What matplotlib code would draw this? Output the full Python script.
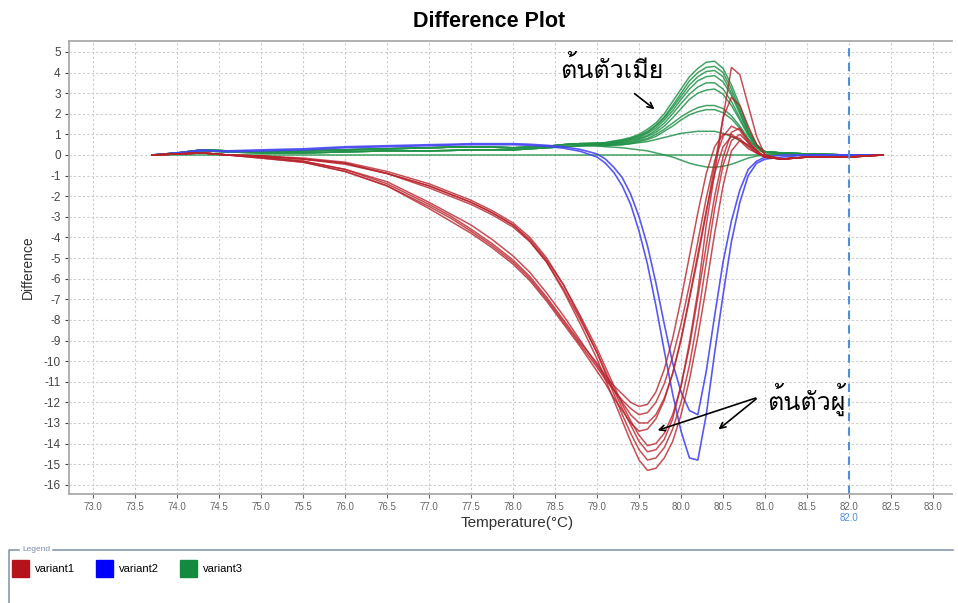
import matplotlib
matplotlib.use("Agg")
import matplotlib.pyplot as plt
from matplotlib import font_manager
from matplotlib.ft2font import FT2Font
from matplotlib.patches import Patch
from matplotlib.lines import Line2D

# find a font that can draw Thai
thai_font = None
for f in font_manager.fontManager.ttflist:
    try:
        if 0x0E15 in FT2Font(f.fname).get_charmap():
            thai_font = f.name
            break
    except Exception:
        pass
thai_family = [thai_font, "DejaVu Sans"] if thai_font else ["DejaVu Sans"]

plt.rcParams["font.family"] = ["Liberation Sans", "DejaVu Sans"]
plt.rcParams["axes.unicode_minus"] = False

temps = [73.7, 74.0, 74.3, 74.6, 75.0, 75.5, 76.0, 76.5, 77.0, 77.25, 77.5, 77.75, 78.0, 78.2,
         78.4, 78.6, 78.8, 79.0, 79.1, 79.2, 79.3, 79.4, 79.5, 79.6, 79.7, 79.8, 79.9, 80.0,
         80.1, 80.2, 80.3, 80.4, 80.5, 80.6, 80.7, 80.8, 80.9, 81.0, 81.2, 81.5, 82.0, 82.4]

variant1 = [
    [0, 0.05, 0.1, 0.0, -0.1, -0.3, -0.7, -1.4, -2.4, -2.95, -3.6, -4.3, -5.1, -5.9, -6.9, -8.0, -9.1,
     -10.1, -10.7, -11.2, -11.6, -12.0, -12.2, -12.1, -11.5, -10.4, -8.9, -7.0, -4.9, -2.8, -0.9, 0.4,
     1.0, 1.0, 0.7, 0.3, 0.1, -0.1, -0.2, -0.1, -0.1, 0.0],
    [0, 0.05, 0.1, 0.0, -0.15, -0.35, -0.8, -1.5, -2.5, -3.05, -3.7, -4.4, -5.2, -6.0, -7.0, -8.1, -9.2,
     -10.3, -10.9, -11.4, -11.9, -12.3, -12.6, -12.5, -12.0, -11.1, -9.8, -8.2, -6.3, -4.2, -2.1, -0.3,
     0.9, 1.4, 1.2, 0.6, 0.2, -0.1, -0.2, -0.1, -0.1, 0.0],
    [0, 0.05, 0.1, 0.0, -0.1, -0.3, -0.7, -1.3, -2.3, -2.85, -3.4, -4.1, -4.9, -5.7, -6.7, -7.8, -9.0,
     -10.2, -10.8, -11.4, -12.0, -12.6, -13.0, -13.0, -12.6, -11.8, -10.6, -9.0, -7.0, -5.0, -2.8, -0.5,
     1.8, 2.8, 2.4, 1.4, 0.5, 0.0, -0.2, -0.1, -0.1, 0.0],
    [0, 0.05, 0.1, 0.0, -0.15, -0.35, -0.8, -1.5, -2.6, -3.2, -3.8, -4.5, -5.3, -6.1, -7.1, -8.2, -9.3,
     -10.5, -11.1, -11.8, -12.4, -13.0, -13.4, -13.3, -12.8, -11.9, -10.6, -8.9, -6.9, -4.8, -2.7, -0.9,
     0.4, 0.9, 0.8, 0.4, 0.1, -0.1, -0.2, -0.1, -0.1, 0.0],
    [0, 0.05, 0.1, 0.0, -0.05, -0.2, -0.4, -0.9, -1.5, -1.9, -2.3, -2.8, -3.4, -4.1, -5.1, -6.3, -7.8,
     -9.4, -10.3, -11.2, -12.1, -12.9, -13.6, -14.1, -14.0, -13.5, -12.6, -11.2, -9.3, -6.9, -4.4, -2.0,
     -0.1, 1.1, 1.3, 0.7, 0.2, -0.1, -0.2, -0.1, -0.1, 0.0],
    [0, 0.05, 0.1, 0.0, -0.05, -0.2, -0.45, -0.9, -1.6, -2.0, -2.4, -2.9, -3.5, -4.2, -5.2, -6.5, -8.0,
     -9.6, -10.5, -11.4, -12.3, -13.1, -13.9, -14.4, -14.3, -13.8, -12.8, -11.2, -9.1, -6.6, -3.4, -0.9,
     1.8, 4.25, 3.9, 2.4, 0.9, 0.0, -0.2, -0.1, -0.1, 0.0],
    [0, 0.05, 0.1, 0.0, -0.05, -0.15, -0.35, -0.8, -1.4, -1.8, -2.2, -2.7, -3.3, -4.0, -5.0, -6.3, -7.9,
     -9.6, -10.6, -11.6, -12.6, -13.5, -14.3, -14.8, -14.7, -14.2, -13.3, -12.0, -10.2, -7.9, -5.2, -2.6,
     -0.5, 0.7, 1.0, 0.6, 0.2, -0.1, -0.2, -0.1, -0.1, 0.0],
    [0, 0.05, 0.1, 0.0, -0.05, -0.2, -0.4, -0.9, -1.5, -1.9, -2.3, -2.8, -3.4, -4.2, -5.2, -6.6, -8.2,
     -9.9, -10.9, -11.9, -12.9, -13.9, -14.8, -15.3, -15.2, -14.7, -13.9, -12.6, -10.9, -8.8, -6.4, -3.8,
     -1.5, 0.2, 0.7, 0.5, 0.1, -0.1, -0.2, -0.1, -0.1, 0.0],
]

variant2 = [
    [0, 0.1, 0.25, 0.15, 0.2, 0.25, 0.35, 0.4, 0.45, 0.48, 0.5, 0.5, 0.5, 0.47, 0.42, 0.33, 0.18,
     -0.1, -0.4, -0.85, -1.5, -2.4, -3.7, -5.3, -7.3, -9.5, -11.6, -13.4, -14.7, -14.8, -12.6, -9.6,
     -6.8, -4.2, -2.3, -1.0, -0.4, -0.2, -0.1, 0.0, 0.0, 0.0],
    [0, 0.1, 0.2, 0.2, 0.25, 0.3, 0.4, 0.45, 0.5, 0.52, 0.55, 0.55, 0.55, 0.52, 0.47, 0.4, 0.27,
     0.05, -0.2, -0.6, -1.1, -1.9, -3.0, -4.4, -6.2, -8.2, -10.1, -11.5, -12.4, -12.6, -10.5, -7.8,
     -5.2, -3.2, -1.7, -0.7, -0.3, -0.1, 0.0, 0.0, 0.0, 0.0],
]

green_early_a = [0, 0.1, 0.25, 0.2, 0.15, 0.2, 0.25, 0.3, 0.35, 0.38, 0.4, 0.38, 0.35, 0.38, 0.42, 0.5, 0.55]
green_early_b = [0, 0.05, 0.2, 0.15, 0.1, 0.1, 0.15, 0.2, 0.2, 0.22, 0.25, 0.25, 0.25, 0.3, 0.35, 0.4, 0.45]
variant3 = [
    green_early_a + [0.58, 0.6, 0.68, 0.75, 0.85, 1.0, 1.25, 1.55, 2.0, 2.6, 3.2, 3.8, 4.2, 4.5, 4.55, 4.2,
                     3.4, 2.4, 1.3, 0.5, 0.15, 0.1, 0.05, 0.0, 0.0],
    green_early_a + [0.58, 0.6, 0.65, 0.7, 0.8, 0.95, 1.15, 1.45, 1.85, 2.4, 3.0, 3.6, 4.0, 4.25, 4.3, 4.0,
                     3.2, 2.2, 1.2, 0.5, 0.15, 0.1, 0.05, 0.0, 0.0],
    green_early_a + [0.55, 0.55, 0.62, 0.7, 0.8, 0.9, 1.1, 1.4, 1.8, 2.3, 2.85, 3.4, 3.8, 4.05, 4.1, 3.8,
                     3.0, 2.1, 1.1, 0.45, 0.15, 0.1, 0.05, 0.0, 0.0],
    green_early_a + [0.55, 0.55, 0.6, 0.65, 0.75, 0.85, 1.05, 1.3, 1.7, 2.15, 2.7, 3.2, 3.6, 3.8, 3.85, 3.55,
                     2.9, 2.0, 1.1, 0.45, 0.15, 0.1, 0.05, 0.0, 0.0],
    green_early_a + [0.5, 0.5, 0.55, 0.6, 0.7, 0.8, 0.95, 1.2, 1.55, 2.0, 2.5, 2.95, 3.3, 3.5, 3.5, 3.2,
                     2.6, 1.8, 1.0, 0.4, 0.15, 0.1, 0.05, 0.0, 0.0],
    green_early_b + [0.5, 0.5, 0.55, 0.6, 0.65, 0.75, 0.9, 1.1, 1.4, 1.8, 2.25, 2.7, 3.0, 3.15, 3.2, 2.95,
                     2.4, 1.7, 0.95, 0.4, 0.15, 0.1, 0.05, 0.0, 0.0],
    green_early_b + [0.5, 0.5, 0.52, 0.55, 0.6, 0.7, 0.8, 1.0, 1.25, 1.55, 1.85, 2.1, 2.3, 2.4, 2.4, 2.25,
                     1.9, 1.4, 0.8, 0.35, 0.15, 0.1, 0.05, 0.0, 0.0],
    green_early_b + [0.45, 0.45, 0.48, 0.5, 0.55, 0.65, 0.75, 0.9, 1.15, 1.4, 1.7, 1.95, 2.1, 2.2, 2.2, 2.05,
                     1.75, 1.3, 0.75, 0.35, 0.15, 0.1, 0.05, 0.0, 0.0],
    green_early_b + [0.45, 0.45, 0.48, 0.5, 0.55, 0.6, 0.65, 0.75, 0.85, 0.95, 1.05, 1.1, 1.15, 1.15, 1.15,
                     1.05, 0.9, 0.7, 0.45, 0.25, 0.1, 0.05, 0.0, 0.0, 0.0],
    green_early_a + [0.45, 0.4, 0.38, 0.35, 0.3, 0.25, 0.2, 0.1, 0.0, -0.1, -0.25, -0.4, -0.5, -0.58, -0.6,
                     -0.55, -0.45, -0.3, -0.15, -0.05, 0.0, 0.05, 0.0, 0.0, 0.0],
    [0.0] * 42,
]

variant_names = ["variant1", "variant2", "variant3"]
line_colors = ["#b8232c", "#4646f2", "#23934a"]
legend_colors = ["#b5121b", "#0000ff", "#138a3e"]
marker_temp = 82.0

fig = plt.figure(figsize=(9.58, 6.03), dpi=100)
ax = fig.add_axes([0.072, 0.181, 0.922, 0.751])

for ys in variant3:
    ax.plot(temps, ys, color=line_colors[2], lw=1.1, alpha=0.85)
for ys in variant2:
    ax.plot(temps, ys, color=line_colors[1], lw=1.2, alpha=0.9)
for ys in variant1:
    ax.plot(temps, ys, color=line_colors[0], lw=1.1, alpha=0.8)

ax.axvline(marker_temp, color="#4f8fd8", lw=1.5, ls=(0, (4, 3)))
ax.text(marker_temp, -17.6, "82.0", color="#4f8fd8", fontsize=7, ha="center", va="center")

ax.set_xlim(72.71, 83.23)
ax.set_ylim(-16.44, 5.53)
ax.set_xticks([73.0 + 0.5 * i for i in range(21)])
ax.set_xticklabels(["%.1f" % (73.0 + 0.5 * i) for i in range(21)])
ax.set_yticks(range(-16, 6))
ax.tick_params(axis="x", labelsize=7, colors="#666666", length=3, pad=3)
ax.tick_params(axis="y", labelsize=8.5, colors="#444444", length=3, pad=3)
ax.grid(True, color="#cccccc", ls=(0, (2, 2)), lw=0.8)
for s in ["left", "bottom", "top"]:
    ax.spines[s].set_color("#aaaaaa")
    ax.spines[s].set_linewidth(1.3)
ax.spines["right"].set_visible(False)

ax.set_xlabel("Temperature(°C)", fontsize=11, color="#333333")
ax.xaxis.set_label_coords(0.507, -0.049)
ax.set_ylabel("Difference", fontsize=10, color="#333333", labelpad=6)
fig.text(0.511, 0.965, "Difference Plot", fontsize=15.5, fontweight="bold", ha="center", va="center")

# annotations
ax.text(78.56, 4.17, "ต้นตัวเมีย", fontsize=18, family=thai_family, ha="left", va="center")
ax.annotate("", xy=(79.71, 2.14), xytext=(79.42, 3.06),
            arrowprops=dict(arrowstyle="->", color="black", lw=1.2))
ax.text(81.02, -11.84, "ต้นตัวผู้", fontsize=18, family=thai_family, ha="left", va="center")
for end in [(79.69, -13.4), (80.42, -13.4)]:
    ax.annotate("", xy=end, xytext=(80.92, -11.75),
                arrowprops=dict(arrowstyle="->", color="black", lw=1.2))

# legend panel
fig.add_artist(Line2D([0.009, 0.009, 0.02], [0.0, 0.088, 0.088], color="#8899aa", lw=1.2))
fig.add_artist(Line2D([0.055, 0.995], [0.088, 0.088], color="#8899aa", lw=1.2))
fig.text(0.023, 0.089, "Legend", fontsize=6, color="#7a8fa8", va="center")
handles = [Patch(facecolor=c, edgecolor=c) for c in legend_colors]
fig.legend(handles, variant_names, loc="center left", bbox_to_anchor=(0.002, 0.057), ncol=3,
           frameon=False, fontsize=8, handlelength=1.55, handleheight=2.0, columnspacing=1.9,
           handletextpad=0.5)

fig.savefig("out.png", dpi=100)
